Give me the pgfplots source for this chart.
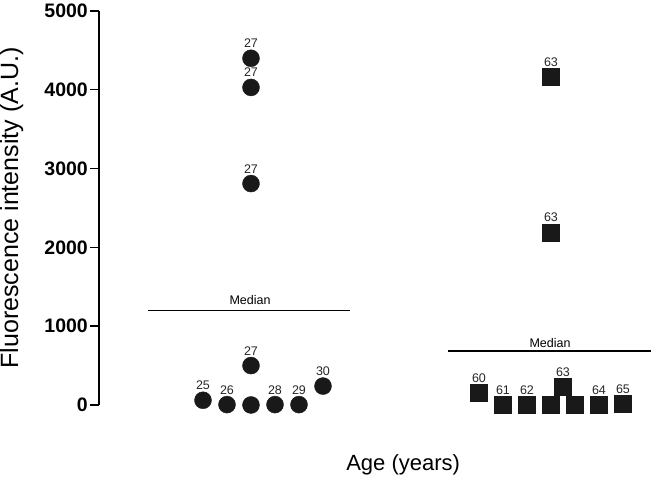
\documentclass[border=0pt]{standalone}
\usepackage{pgfplots}
\pgfplotsset{compat=1.18}
\usepackage{fontspec}
\setmainfont{Liberation Sans}

% x positions: one unit = 24 px of the reference, age 27 at x=6
\begin{document}
\begin{tikzpicture}
\begin{axis}[
  scale only axis, width=552pt, height=394pt,
  xmin=-0.3333, xmax=22.667, ymin=0, ymax=5000,
  clip=false,
  axis lines*=left,
  x axis line style={draw=none},
  y axis line style={line width=1.4pt},
  xtick=\empty,
  ytick={0,1000,...,5000},
  tick align=outside, major tick length=9pt,
  ytick style={line width=1.4pt, black},
  /pgf/number format/assume math mode=true,
  /pgf/number format/1000 sep={},
  yticklabel style={font=\fontsize{19.5}{19.5}\selectfont\bfseries, inner sep=2pt},
  ylabel={Fluorescence intensity (A.U.)},
  ylabel style={at={(axis description cs:-0.158,0.5)}, anchor=center, rotate=0, font=\fontsize{25}{25}\selectfont},
  xlabel={Age (years)},
  xlabel style={at={(axis description cs:0.551,-0.152)}, anchor=center, font=\fontsize{22}{22}\selectfont},
  every node near coord/.append style={font=\fontsize{12.5}{12.5}\selectfont, anchor=base, yshift=10.5pt, color=black!85},
]
% young donors (circles)
\addplot[only marks, mark=*, mark size=8.5pt, black!90,
  point meta=explicit symbolic, nodes near coords] coordinates {
  (4,60) [25] (5,5) [26] (7,5) [28] (8,5) [29] (9,240) [30]
  (6,500) [27] (6,2810) [27] (6,4030) [27] (6,4400) [27]
};
\addplot[only marks, mark=*, mark size=8.5pt, black!90] coordinates {(6,0)};
% old donors (squares)
\addplot[only marks, mark=square*, mark size=8.5pt, black!90,
  point meta=explicit symbolic, nodes near coords] coordinates {
  (15.5,150) [60] (16.5,5) [61] (17.5,0) [62] (19,230) [63]
  (20.5,5) [64] (21.5,15) [65] (18.5,2190) [63] (18.5,4165) [63]
};
\addplot[only marks, mark=square*, mark size=8.5pt, black!90] coordinates {(18.5,0) (19.5,0)};
% medians
\addplot[black, line width=1.6pt] coordinates {(1.71,1200) (10.125,1200)};
\addplot[black, line width=1.6pt] coordinates {(14.21,685) (22.667,685)};
\node[font=\fontsize{12.5}{12.5}\selectfont] at (axis cs:5.96,1332) {Median};
\node[font=\fontsize{12.5}{12.5}\selectfont] at (axis cs:18.46,787) {Median};
\end{axis}
\pgfresetboundingbox
\useasboundingbox (-99pt,-73pt) rectangle (552pt,405pt);
\end{tikzpicture}
\end{document}
